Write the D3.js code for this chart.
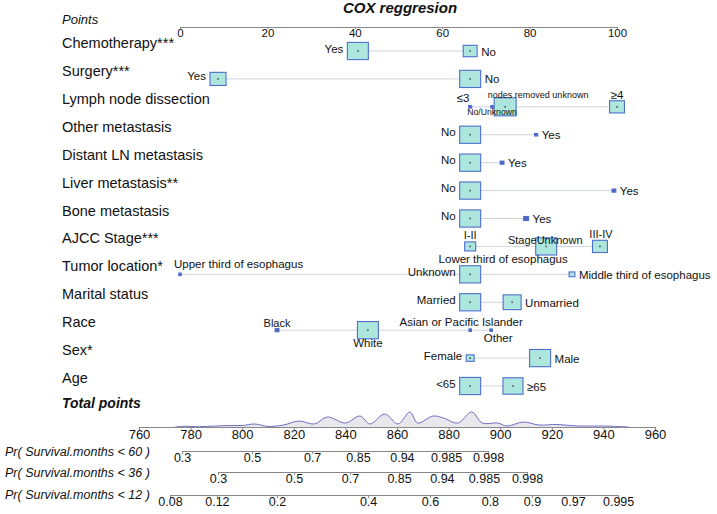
<!doctype html>
<html>
<head>
<meta charset="utf-8">
<script src="https://cdn.jsdelivr.net/npm/d3@7"></script>
<style>
body{margin:0;background:#fff;}
text{font-family:"Liberation Sans",Arial,sans-serif;fill:#111;}
</style>
</head>
<body>
<svg id="chart" width="717" height="514"></svg>
<script>

// ---------- data ----------
var varNames = ["Chemotherapy***","Surgery***","Lymph node dissection","Other metastasis",
    "Distant LN metastasis","Liver metastasis**","Bone metastasis","AJCC Stage***",
    "Tumor location*","Marital status","Race","Sex*","Age"];

var levelNames = [
    ["Yes","No"],
    ["Yes","No"],
    ["≤3","No/Unknown","nodes removed unknown","≥4"],
    ["No","Yes"],
    ["No","Yes"],
    ["No","Yes"],
    ["No","Yes"],
    ["I-II","StageUnknown","III-IV"],
    ["Upper third of esophagus","Unknown","Lower third of esophagus","Middle third of esophagus"],
    ["Married","Unmarried"],
    ["Black","White","Asian or Pacific Islander","Other"],
    ["Female","Male"],
    ["<65","≥65"]
];

// points of each level (0-100 scale)
var levelPoints = [
    [40.7, 66.4],
    [8.7, 66.4],
    [66.4, 71.4, 74.4, 100],
    [66.4, 81.5],
    [66.4, 73.7],
    [66.4, 99.3],
    [66.4, 79.2],
    [66.4, 83.8, 96.1],
    [0, 64.8, 66.4, 89.7],
    [66.4, 76.0],
    [22.2, 43.0, 66.4, 71.2],
    [66.4, 82.4],
    [66.4, 76.2]
];

// relative frequency of each level (drives box size)
var levelShare = [
    [0.91, 0.40],
    [0.53, 0.91],
    [0.02, 0.005, 1.0, 0.46],
    [0.91, 0.02],
    [0.91, 0.03],
    [0.91, 0.03],
    [0.91, 0.05],
    [0.25, 0.91, 0.46],
    [0.01, 0.10, 0.91, 0.07],
    [0.91, 0.67],
    [0.03, 0.91, 0.01, 0.01],
    [0.13, 0.91],
    [0.91, 0.83]
];

var pointTicks = [0,20,40,60,80,100];
var totalTicks = [760,780,800,820,840,860,880,900,920,940,960];

// density of total points
var densityTp  = [774,778,782,788,795,800,805,810,816,822,828,833,840,845.7,849.5,855.3,860.4,865,868,874,878,883.6,889,893,899,902.6,909,915,922,930,940,950];
var densityVal = [0,0.8,0.3,0.8,1.5,1.5,3,0.6,2,6,3,10,4,11,3,13,3,15,4,11,9,4,15,4,4,1,5,2,2.5,1,1,0];

// survival probability axes: tick labels and the total points they sit at
var pr60Ticks = ["0.3","0.5","0.7","0.85","0.94","0.985","0.998"];
var pr60At    = [776.7, 803.8, 827.1, 844.9, 861.9, 879.0, 895.3];
var pr36Ticks = ["0.3","0.5","0.7","0.85","0.94","0.985","0.998"];
var pr36At    = [790.6, 820.1, 841.8, 860.8, 877.4, 893.7, 910.4];
var pr12Ticks = ["0.08","0.12","0.2","0.4","0.6","0.8","0.9","0.97","0.995"];
var pr12At    = [772.0, 790.2, 813.5, 848.8, 872.8, 896.0, 912.3, 928.2, 945.7];

// ---------- layout of the level labels: side, dx, dy, font size, anchor ----------
var labelLayout = [
    [["l"],["r"]],
    [["l"],["r"]],
    [["a",-7,-5,11.5],["b",0,8,8.7],["a",33,-9,9],["a",0,-8,11.5]],
    [["l"],["r"]],
    [["l"],["r"]],
    [["l"],["r"]],
    [["l"],["r"]],
    [["a",0,-7,11],["a",-1,-2,11],["a",1,-8,11]],
    [["a",-6,-6,11.5,"start"],["l"],["a",33,-11,11.5],["r"]],
    [["l"],["r"]],
    [["a",0,-3,11],["b",0,17,11.5],["a",-9,-4,11.5],["b",7,12,11.5]],
    [["l"],["r"]],
    [["l"],["r"]]
];

var svg = d3.select("#chart");

var x = d3.scaleLinear().domain([0,100]).range([180,617]);
var xTotal = d3.scaleLinear().domain([760,960]).range([139,655]);
var row = d3.scaleLinear().domain([0,12]).range([51,386]);
var boxSize = d3.scaleSqrt().domain([0,1]).range([0,22]);
var dens = d3.scaleLinear().domain([0,15]).range([427,412]);

// title
svg.append("text").attr("x",400).attr("y",13).attr("text-anchor","middle")
    .style("font-size","15px").style("font-weight","bold").style("font-style","italic")
    .text("COX reggresion");

// points axis
svg.append("text").attr("x",62).attr("y",24).style("font-size","13px").style("font-style","italic").text("Points");
var pAxis = svg.append("g").attr("transform","translate(0,27)")
    .call(d3.axisBottom(x).tickValues(pointTicks).tickSize(2).tickSizeOuter(0).tickPadding(0));
pAxis.selectAll("text").style("font-size","11.5px");

// variable rows
varNames.forEach(function(name, i){
    var y = row(i);
    svg.append("text").attr("x",62).attr("y",y-3).style("font-size","14.5px").text(name);

    var pts = levelPoints[i];
    svg.append("line")
        .attr("x1",x(d3.min(pts))).attr("x2",x(d3.max(pts)))
        .attr("y1",y).attr("y2",y)
        .style("stroke","#cfd3dc").style("stroke-width",1);

    var g = svg.append("g");
    var lg = svg.append("g");
    pts.forEach(function(p, j){
        var w = Math.max(boxSize(levelShare[i][j]), 2.5);
        var h = Math.max(w*0.82, 2.5);
        var cx = x(p);
        g.append("rect").attr("x",cx-w/2).attr("y",y-h/2).attr("width",w).attr("height",h)
            .style("fill", w > 5 ? "#ade6dc" : "#5a62b8")
            .style("stroke","#4d6fcf").style("stroke-width",1.1);
        if (w > 6)
            g.append("rect").attr("x",cx-0.8).attr("y",y-0.8).attr("width",1.6).attr("height",1.6).style("fill","#555");

        var lay = labelLayout[i][j];
        var t = lg.append("text").text(levelNames[i][j]);
        if (lay[0] == "l") {
            t.attr("x",cx-w/2-4).attr("y",y+1.5).attr("text-anchor","end").style("font-size","11.5px");
        } else if (lay[0] == "r") {
            t.attr("x",cx+w/2+4).attr("y",y+4.5).attr("text-anchor","start").style("font-size","11.5px");
        } else {
            t.attr("x",cx+lay[1]).attr("y",y+lay[2])
             .attr("text-anchor",lay[4] || "middle").style("font-size",lay[3]+"px");
        }
    });
});

// total points
svg.append("text").attr("x",62).attr("y",408).style("font-size","14px")
    .style("font-weight","bold").style("font-style","italic").text("Total points");

var area = d3.area().x(function(d,i){ return xTotal(densityTp[i]); })
    .y0(dens(0)).y1(function(d){ return dens(d); })
    .curve(d3.curveCatmullRom.alpha(0.5));
svg.append("path").datum(densityVal).attr("d",area)
    .style("fill","#e8e8ec").style("stroke","none");
svg.append("path").datum(densityVal).attr("d",area.lineY1())
    .style("fill","none").style("stroke","#6e6ec4").style("stroke-width",1);

var tAxis = svg.append("g").attr("transform","translate(0,427)")
    .call(d3.axisBottom(xTotal).tickValues(totalTicks).tickSize(3).tickSizeOuter(0).tickPadding(0));
tAxis.selectAll("text").style("font-size","13px");

// probability axes
function probAxis(label, ticks, at, y, ly){
    svg.append("text").attr("x",5).attr("y",ly).style("font-size","12.5px").style("font-style","italic").text(label);
    var a = svg.append("g").attr("transform","translate(0,"+y+")")
        .call(d3.axisBottom(xTotal).tickValues(at).tickFormat(function(d,i){ return ticks[i]; })
            .tickSize(3).tickPadding(-1));
    a.select(".domain").remove();
    a.append("line").attr("x1",xTotal(at[0])).attr("x2",xTotal(at[at.length-1]))
        .attr("y1",0.5).attr("y2",0.5).style("stroke","#888");
    a.selectAll("text").style("font-size","12.5px");
}
probAxis("Pr( Survival.months < 60 )", pr60Ticks, pr60At, 451, 456);
probAxis("Pr( Survival.months < 36 )", pr36Ticks, pr36At, 472, 477);
probAxis("Pr( Survival.months < 12 )", pr12Ticks, pr12At, 495, 499);

svg.selectAll(".tick line").style("stroke","#888");
svg.selectAll(".domain").style("stroke","#888");
svg.selectAll(".tick text").style("fill","#111");

</script>
</body>
</html>
